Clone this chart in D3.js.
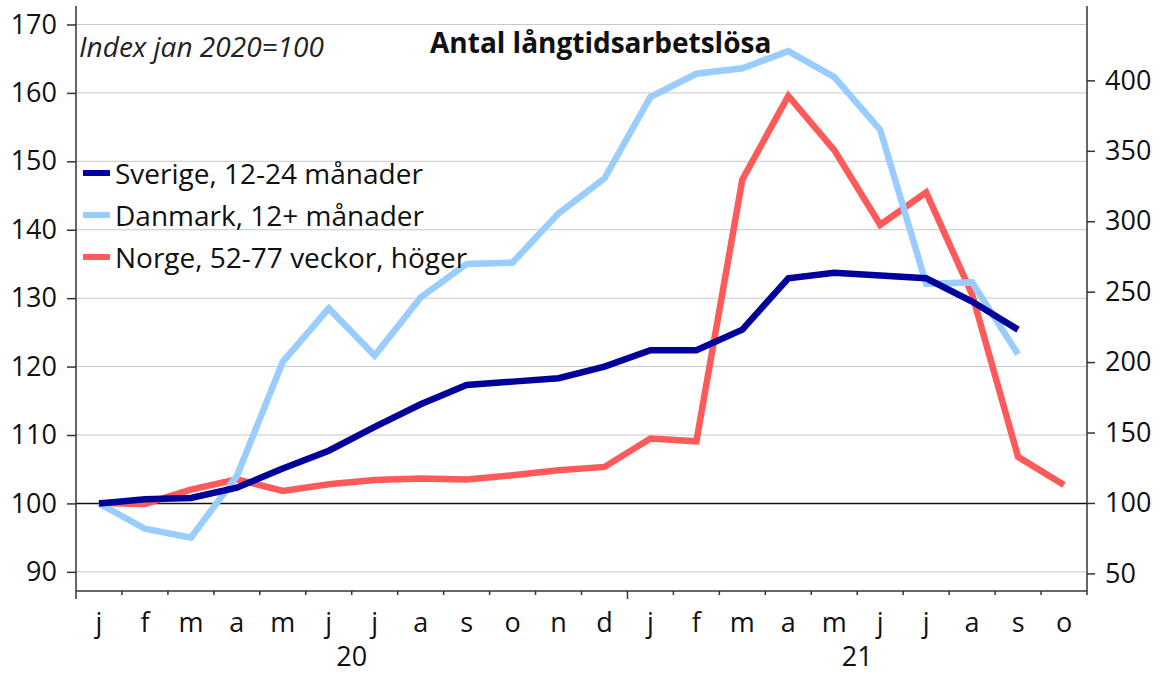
<!DOCTYPE html>
<html lang="sv">
<head>
    <meta charset="UTF-8">
    <title>Antal långtidsarbetslösa</title>
    <script src="https://d3js.org/d3.v7.min.js"></script>
    <style>
        body { margin: 0; background: #fff; }
        svg { display: block; font-family: "Open Sans", "Noto Sans", sans-serif; }
        .axis text { font-size: 27px; fill: #111; font-family: "Open Sans", "Noto Sans", sans-serif; }
        .axis path, .axis line { stroke: #333; stroke-width: 1.5; }
        .grid line { stroke: #c8c8c8; stroke-width: 1; }
        .series { fill: none; stroke-width: 6.5; }
    </style>
</head>
<body>
    <div id="chart"></div>
    <script type="text/javascript">
        // months jan 2020 - okt 2021
        const months = ["j","f","m","a","m","j","j","a","s","o","n","d",
                        "j","f","m","a","m","j","j","a","s","o"];
        const years = [{label: "20", from: 0, to: 12}, {label: "21", from: 12, to: 22}];

        // index jan 2020 = 100 (left axis)
        const sverige = [100, 100.6, 100.8, 102.3, 105.1, 107.7, 111.2, 114.5, 117.3, 117.8, 118.3, 120.0,
                         122.4, 122.4, 125.4, 132.9, 133.7, 133.3, 132.9, 129.5, 125.4];
        const danmark = [100, 96.3, 95.0, 104.0, 120.7, 128.5, 121.6, 130.1, 135.0, 135.2, 142.4, 147.5,
                         159.4, 162.8, 163.6, 166.1, 162.3, 154.6, 132.1, 132.3, 121.8];
        // right axis
        const norge = [100, 99.3, 109.5, 116.8, 108.5, 113.3, 116.3, 117.3, 116.6, 119.7, 123.2, 125.6,
                       145.7, 143.8, 329.5, 389.0, 350.5, 297.5, 320.5, 248.0, 132.7, 112.8];

        const leftTicks = [90, 100, 110, 120, 130, 140, 150, 160, 170];
        const rightTicks = [50, 100, 150, 200, 250, 300, 350, 400];

        const series = [
            {name: "Sverige, 12-24 månader", values: sverige, color: "#00009a", axis: "left"},
            {name: "Danmark, 12+ månader", values: danmark, color: "#99ccff", axis: "left"},
            {name: "Norge, 52-77 veckor, höger", values: norge, color: "#ff5a5a", axis: "right"}
        ];

        const W = 1161, H = 676;
        const margin = {top: 6, right: 74, bottom: 85, left: 76};
        const width = W - margin.left - margin.right,
              height = H - margin.top - margin.bottom;

        const x = d3.scaleBand().domain(d3.range(months.length)).range([0, width]);
        const yL = d3.scaleLinear().domain([87.2, 172.7]).range([height, 0]);
        const yR = d3.scaleLinear().domain([37.5, 452.8]).range([height, 0]);

        const svg = d3.select("#chart").append("svg")
            .attr("width", W)
            .attr("height", H);
        svg.append("rect").attr("width", W).attr("height", H).attr("fill", "#fff");

        const g = svg.append("g")
            .attr("transform", "translate(" + margin.left + "," + margin.top + ")");

        // gridlines
        g.append("g").attr("class", "grid")
            .selectAll("line")
            .data(leftTicks.filter(d => d !== 100))
            .enter().append("line")
            .attr("x1", 0).attr("x2", width)
            .attr("y1", d => yL(d)).attr("y2", d => yL(d));

        g.append("line")
            .attr("x1", 0).attr("x2", width)
            .attr("y1", yL(100)).attr("y2", yL(100))
            .attr("stroke", "#111").attr("stroke-width", 1.5);

        // lines, norge first so it lies underneath
        const lineL = d3.line().x((d, i) => x(i) + x.bandwidth() / 2).y(d => yL(d));
        const lineR = d3.line().x((d, i) => x(i) + x.bandwidth() / 2).y(d => yR(d));

        [series[2], series[1], series[0]].forEach(function(s) {
            g.append("path")
                .datum(s.values)
                .attr("class", "series")
                .attr("stroke", s.color)
                .attr("d", s.axis === "left" ? lineL : lineR);
        });

        // left axis
        const axL = g.append("g").attr("class", "axis")
            .call(d3.axisLeft(yL).tickValues(leftTicks).tickSize(9).tickSizeOuter(0).tickPadding(10));
        axL.select(".domain").attr("d", "M0," + height + "V0");

        // right axis
        const axR = g.append("g").attr("class", "axis")
            .attr("transform", "translate(" + width + ",0)")
            .call(d3.axisRight(yR).tickValues(rightTicks).tickSize(8).tickSizeOuter(0).tickPadding(10));
        axR.select(".domain").attr("d", "M0," + height + "V0");

        // bottom axis: labels centred in each month, ticks on band edges
        const axB = g.append("g").attr("class", "axis")
            .attr("transform", "translate(0," + height + ")")
            .call(d3.axisBottom(x).tickFormat(i => months[i]).tickSize(0).tickPadding(22));
        axB.select(".domain").attr("d", "M0,0H" + width);

        const edges = d3.range(months.length + 1);
        axB.selectAll(".edge")
            .data(edges)
            .enter().append("line")
            .attr("class", "edge")
            .attr("x1", i => i < months.length ? x(i) : width)
            .attr("x2", i => i < months.length ? x(i) : width)
            .attr("y1", 0)
            .attr("y2", i => (i === 0 || i === 12) ? 8 : 4);

        axB.selectAll(".year")
            .data(years)
            .enter().append("text")
            .attr("class", "year")
            .attr("x", d => (x(d.from) + (d.to < months.length ? x(d.to) : width)) / 2)
            .attr("y", 75)
            .attr("text-anchor", "middle")
            .text(d => d.label);

        // titles
        svg.append("text")
            .attr("x", 79).attr("y", 57)
            .attr("font-size", 28).attr("font-style", "italic").attr("fill", "#222")
            .text("Index jan 2020=100");

        svg.append("text")
            .attr("x", 430).attr("y", 53)
            .attr("font-size", 28).attr("font-weight", "bold").attr("fill", "#111")
            .text("Antal långtidsarbetslösa");

        // legend
        const legend = svg.append("g").attr("transform", "translate(83,173)");
        series.forEach(function(s, i) {
            const row = legend.append("g").attr("transform", "translate(0," + (i * 42) + ")");
            row.append("line")
                .attr("x1", 0).attr("x2", 27)
                .attr("stroke", s.color).attr("stroke-width", 6);
            row.append("text")
                .attr("x", 32).attr("y", 11)
                .attr("font-size", 28).attr("fill", "#111")
                .text(s.name);
        });
    </script>
</body>
</html>
